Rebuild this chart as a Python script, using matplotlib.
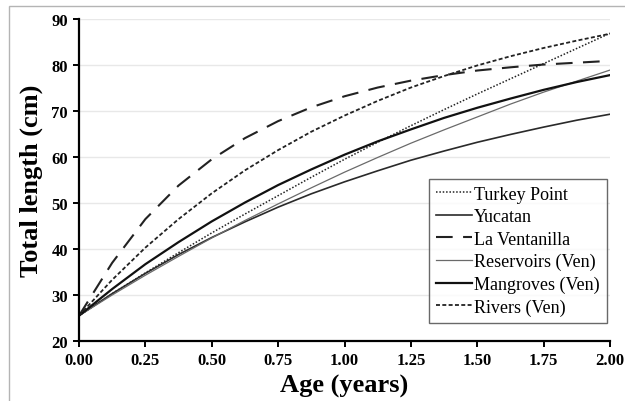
import matplotlib
matplotlib.use("Agg")
import matplotlib.pyplot as plt
from matplotlib.patches import Rectangle

plt.rcParams['font.family'] = ['Liberation Serif', 'DejaVu Serif']

# age (years) and total length (cm)
age = [0.0, 0.125, 0.25, 0.375, 0.5, 0.625, 0.75, 0.875, 1.0,
       1.125, 1.25, 1.375, 1.5, 1.625, 1.75, 1.875, 2.0]

turkey_point = [25.5, 30.3, 34.8, 39.2, 43.5, 47.6, 51.6, 55.6, 59.5,
                63.2, 66.8, 70.3, 73.7, 77.0, 80.3, 83.6, 86.9]
yucatan = [25.5, 30.3, 34.7, 38.8, 42.5, 45.9, 49.1, 52.0, 54.6,
           57.0, 59.3, 61.3, 63.2, 64.9, 66.5, 68.0, 69.3]
la_ventanilla = [25.5, 37.0, 46.5, 53.8, 59.5, 64.1, 67.8, 70.8, 73.2,
                 75.1, 76.6, 77.8, 78.8, 79.5, 80.1, 80.5, 80.9]
reservoirs = [25.5, 30.0, 34.3, 38.4, 42.4, 46.2, 49.8, 53.3, 56.7,
              59.9, 63.0, 65.9, 68.7, 71.5, 74.1, 76.5, 78.9]
mangroves = [25.5, 31.3, 36.7, 41.5, 46.0, 50.1, 53.9, 57.3, 60.5,
             63.4, 66.0, 68.5, 70.7, 72.7, 74.6, 76.3, 77.8]
rivers = [25.5, 33.3, 40.3, 46.5, 52.1, 57.1, 61.5, 65.5, 69.0,
          72.2, 75.1, 77.6, 79.9, 81.9, 83.7, 85.3, 86.8]

x_ticks = [0.0, 0.25, 0.5, 0.75, 1.0, 1.25, 1.5, 1.75, 2.0]
y_ticks = [20, 30, 40, 50, 60, 70, 80, 90]

fig = plt.figure(figsize=(6.25, 4.02), dpi=100)
# light grey frame round the figure (only top and left edges show)
fig.patches.append(Rectangle((9 / 625, -0.2), 1.5, 1.2 - 7 / 402,
                             transform=fig.transFigure, fill=False,
                             edgecolor='#b4b4b4', linewidth=1.0, clip_on=False))
ax = fig.add_axes([79 / 625, 60 / 402, 531 / 625, 322 / 402])

ax.plot(age, turkey_point, color='#222222', lw=1.1, ls=(0, (1, 1.2)), label='Turkey Point')
ax.plot(age, yucatan, color='#2a2a2a', lw=1.2, ls='-', label='Yucatan')
ax.plot(age, la_ventanilla, color='#222222', lw=1.5, ls=(0, (8, 5)), label='La Ventanilla')
ax.plot(age, reservoirs, color='#6a6a6a', lw=0.9, ls='-', label='Reservoirs (Ven)')
ax.plot(age, mangroves, color='#111111', lw=1.6, ls='-', label='Mangroves (Ven)')
ax.plot(age, rivers, color='#222222', lw=1.3, ls=(0, (2.2, 1.3)), label='Rivers (Ven)')

ax.set_xlim(0, 2.0)
ax.set_ylim(20, 90)
ax.set_xticks(x_ticks)
ax.set_xticklabels(['%.2f' % v for v in x_ticks])
ax.set_yticks(y_ticks)
ax.yaxis.grid(True, color='#e8e8e8', lw=1.0)
ax.set_axisbelow(True)

for s in ['top', 'right']:
    ax.spines[s].set_visible(False)
for s in ['left', 'bottom']:
    ax.spines[s].set_linewidth(1.6)
ax.tick_params(direction='out', length=4, width=1.4, labelsize=12, pad=4)
for lab in ax.get_xticklabels() + ax.get_yticklabels():
    lab.set_fontweight('bold')

ax.set_xlabel('Age (years)', fontsize=19, fontweight='bold', labelpad=4)
ax.set_ylabel('Total length (cm)', fontsize=19, fontweight='bold', labelpad=6)

leg = ax.legend(loc='lower right', bbox_to_anchor=(607 / 625, 78 / 402),
                bbox_transform=fig.transFigure, fontsize=13, frameon=True,
                fancybox=False, handlelength=2.0, handletextpad=0.1,
                labelspacing=0.3, borderpad=0.4, borderaxespad=0)
leg.get_frame().set_edgecolor('#444444')
leg.get_frame().set_linewidth(1.0)

plt.savefig("out.png", dpi=100)
